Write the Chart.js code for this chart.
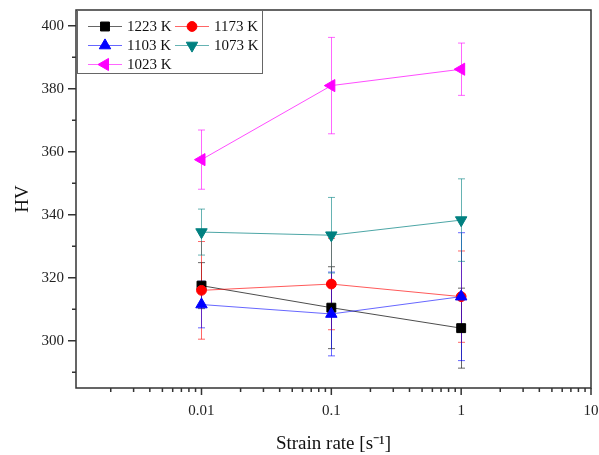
<!DOCTYPE html>
<html><head><meta charset="utf-8">
<script src="https://cdn.jsdelivr.net/npm/chart.js@4/dist/chart.umd.min.js"></script>
<style>html,body{margin:0;padding:0;background:#fff}#wrap{width:599px;height:455px;position:relative}</style>
</head><body><div id="wrap"><canvas id="c"></canvas></div>
<script>
// ---- data ----
const strainRates = [0.01, 0.1, 1];
const seriesLabels = ['1223 K', '1173 K', '1103 K', '1073 K', '1023 K'];
const hv1223 = [317.5, 310.5, 304.0];
const hv1173 = [316.0, 318.0, 314.0];
const hv1103 = [311.5, 308.5, 314.0];
const hv1073 = [334.5, 333.5, 338.3];
const hv1023 = [357.5, 381.0, 386.2];
const err1223 = [7.3, 13.0, 12.7];
const err1173 = [15.5, 14.5, 14.5];
const err1103 = [7.4, 13.3, 20.3];
const err1073 = [7.3, 12.0, 13.1];
const err1023 = [9.4, 15.3, 8.3];
const xTickValues = [0.01, 0.1, 1, 10];
const xTickLabels = ['0.01', '0.1', '1', '10'];
const yTickValues = [300, 320, 340, 360, 380, 400];
const yTickLabels = ['300', '320', '340', '360', '380', '400'];
const yMinorTickValues = [290, 310, 330, 350, 370, 390];

const FONT = "'Liberation Serif', 'Times New Roman', serif";
const colors = ['#000000', '#ff0000', '#0000ff', '#008080', '#ff00ff'];
const lineColors = ['rgba(0,0,0,0.7)', 'rgba(255,0,0,0.65)', 'rgba(0,0,255,0.6)', 'rgba(0,128,128,0.7)', 'rgba(255,0,255,0.7)'];
const styles = [
  {pointStyle: 'rect', radius: 6.3, rotation: 0},
  {pointStyle: 'circle', radius: 4.9, rotation: 0},
  {pointStyle: 'triangle', radius: 6.6, rotation: 0},
  {pointStyle: 'triangle', radius: 6.6, rotation: 180},
  {pointStyle: 'triangle', radius: 7, rotation: -90}
];
const values = [hv1223, hv1173, hv1103, hv1073, hv1023];
const errors = [err1223, err1173, err1103, err1073, err1023];

const datasets = values.map((vals, i) => ({
  label: seriesLabels[i],
  data: strainRates.map((x, j) => ({x: x, y: vals[j]})),
  errorBars: errors[i],
  borderColor: lineColors[i],
  backgroundColor: colors[i],
  borderWidth: 1,
  pointStyle: styles[i].pointStyle,
  pointRadius: styles[i].radius,
  pointRotation: styles[i].rotation,
  pointBorderWidth: 1,
  pointBorderColor: colors[i],
  pointBackgroundColor: colors[i],
  showLine: true,
  tension: 0,
  order: 4 - i
}));

function drawMarker(ctx, st, color, x, y) {
  if (Chart.helpers && Chart.helpers.drawPoint) {
    ctx.save();
    ctx.fillStyle = color; ctx.strokeStyle = color; ctx.lineWidth = 1;
    Chart.helpers.drawPoint(ctx, {pointStyle: st.pointStyle, rotation: st.rotation, radius: st.radius, borderWidth: 1}, x, y);
    ctx.restore();
  }
}

const decorPlugin = {
  id: 'decor',
  beforeDatasetsDraw(chart) {
    const ctx = chart.ctx, xs = chart.scales.x, ys = chart.scales.y;
    ctx.save();
    chart.data.datasets.forEach((ds, i) => {
      ctx.strokeStyle = colors[i];
      ctx.globalAlpha = 0.6;
      ctx.lineWidth = 1;
      ds.data.forEach((p, j) => {
        const e = ds.errorBars[j];
        const px = Math.round(xs.getPixelForValue(p.x)) + 0.5;
        const yt = ys.getPixelForValue(p.y + e), yb = ys.getPixelForValue(p.y - e);
        ctx.beginPath();
        ctx.moveTo(px, yt); ctx.lineTo(px, yb);
        ctx.moveTo(px - 3.5, yt); ctx.lineTo(px + 3.5, yt);
        ctx.moveTo(px - 3.5, yb); ctx.lineTo(px + 3.5, yb);
        ctx.stroke();
      });
    });
    ctx.restore();
  },
  afterDatasetsDraw(chart) {
    const ctx = chart.ctx, xs = chart.scales.x, ys = chart.scales.y;
    const a = chart.chartArea;
    ctx.save();
    // frame
    ctx.strokeStyle = '#333';
    ctx.lineWidth = 1.5;
    ctx.strokeRect(a.left, a.top, a.right - a.left, a.bottom - a.top);
    // y ticks
    ctx.beginPath();
    yTickValues.forEach(v => { const y = ys.getPixelForValue(v); ctx.moveTo(a.left, y); ctx.lineTo(a.left - 8, y); });
    yMinorTickValues.forEach(v => { const y = ys.getPixelForValue(v); ctx.moveTo(a.left, y); ctx.lineTo(a.left - 4, y); });
    // x ticks
    xTickValues.forEach(v => { const x = xs.getPixelForValue(v); ctx.moveTo(x, a.bottom); ctx.lineTo(x, a.bottom + 7); });
    xTickValues.forEach(d => {
      for (let k = 2; k <= 9; k++) {
        const v = d / 10 * k;
        if (v < xs.min) continue;
        const x = xs.getPixelForValue(v);
        ctx.moveTo(x, a.bottom); ctx.lineTo(x, a.bottom + 4);
      }
    });
    ctx.stroke();
    // legend
    const lx = a.left + 1, ly = a.top, lw = 185, lh = 63;
    ctx.fillStyle = '#fff';
    ctx.fillRect(lx, ly, lw, lh);
    ctx.strokeStyle = '#666'; ctx.lineWidth = 1;
    ctx.strokeRect(lx + 0.5, ly + 0.5, lw, lh);
    const cols = [11, 98], rows = [16.5, 35.5, 54.5];
    ctx.font = '15px ' + FONT;
    ctx.textBaseline = 'middle';
    chart.data.datasets.forEach((ds, i) => {
      const cx = lx + cols[i % 2], cy = ly + rows[Math.floor(i / 2)];
      ctx.strokeStyle = colors[i]; ctx.globalAlpha = 0.6; ctx.lineWidth = 1;
      ctx.beginPath(); ctx.moveTo(cx, cy); ctx.lineTo(cx + 34, cy); ctx.stroke();
      ctx.globalAlpha = 1;
      drawMarker(ctx, styles[i], colors[i], cx + 17, cy);
      ctx.fillStyle = '#111';
      ctx.fillText(ds.label, cx + 39, cy + 1);
    });
    ctx.restore();
  }
};

new Chart(document.getElementById('c'), {
  type: 'scatter',
  data: {datasets: datasets},
  options: {
    responsive: true,
    maintainAspectRatio: false,
    animation: false,
    layout: {padding: {top: 10, right: 6, left: 0, bottom: 0}},
    plugins: {legend: {display: false}, tooltip: {enabled: false}},
    scales: {
      x: {
        type: 'logarithmic', min: 0.00108, max: 10,
        afterBuildTicks: s => { s.ticks = xTickValues.map(v => ({value: v})); },
        afterFit: s => { s.height = 67; s.paddingLeft = 0; s.paddingRight = 0; },
        ticks: {autoSkip: false, maxRotation: 0, padding: 6, color: '#222',
          font: {family: FONT, size: 15},
          callback: (v, i) => xTickLabels[i]},
        grid: {display: true, drawOnChartArea: false, drawTicks: true, tickLength: 8,
          color: 'rgba(0,0,0,0)', tickColor: 'rgba(0,0,0,0)'},
        border: {display: false},
        title: {display: true, text: 'Strain rate [s⁻¹]', color: '#111',
          font: {family: FONT, size: 19}, padding: {top: 6, bottom: 0}}
      },
      y: {
        min: 285, max: 405,
        afterBuildTicks: s => { s.ticks = yTickValues.map(v => ({value: v})); },
        afterFit: s => { s.width = 76; s.paddingTop = 0; s.paddingBottom = 0; },
        ticks: {autoSkip: false, padding: 4, color: '#222',
          font: {family: FONT, size: 15},
          callback: (v, i) => yTickLabels[i]},
        grid: {display: true, drawOnChartArea: false, drawTicks: true, tickLength: 8,
          color: 'rgba(0,0,0,0)', tickColor: 'rgba(0,0,0,0)'},
        border: {display: false},
        title: {display: true, text: 'HV', color: '#111',
          font: {family: FONT, size: 19}, padding: {top: 12, bottom: 0}}
      }
    }
  },
  plugins: [decorPlugin]
});
</script>
</body></html>
